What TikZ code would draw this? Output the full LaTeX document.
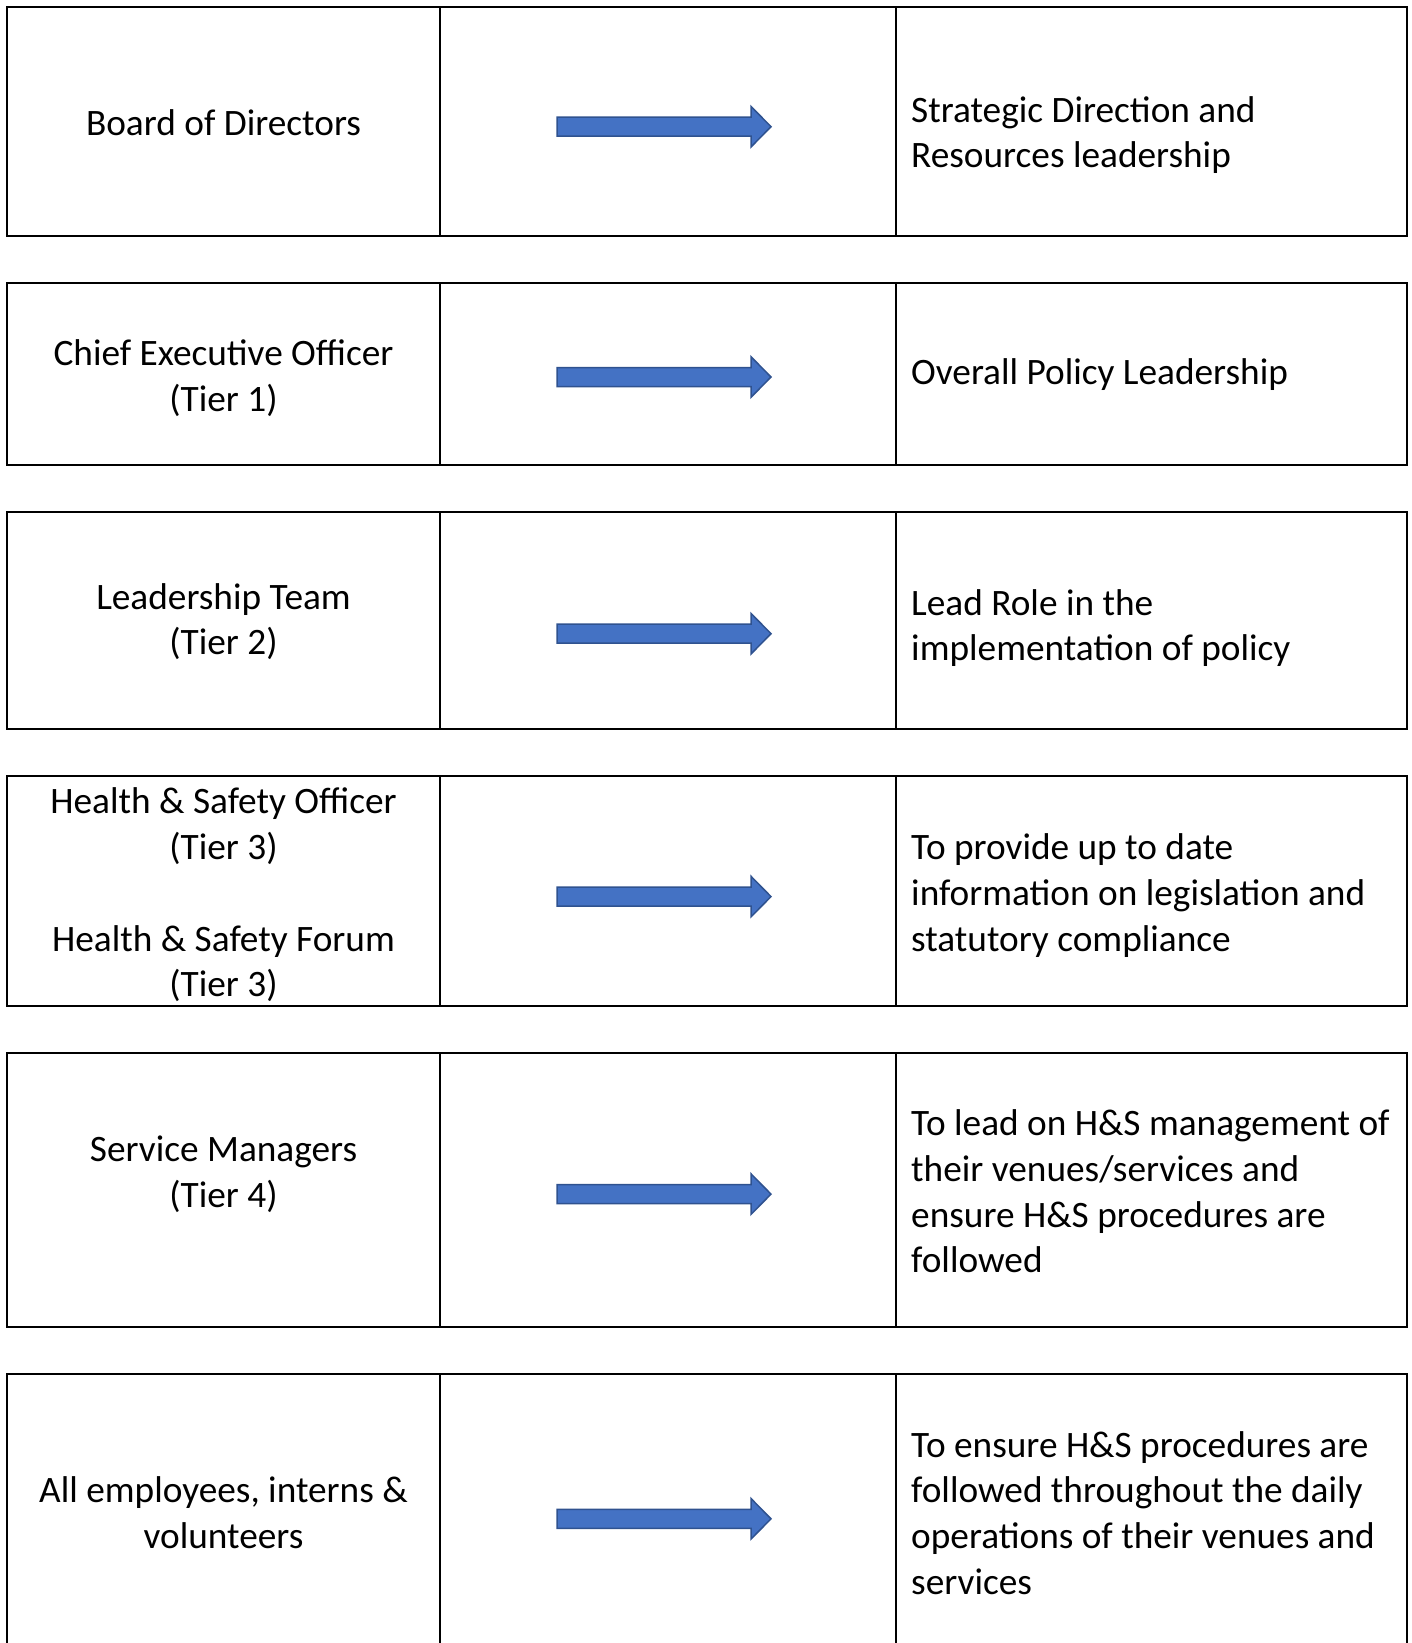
\documentclass[tikz,border=0pt]{standalone}
\usepackage{fontspec}
\setmainfont{Carlito}

\definecolor{flowfill}{HTML}{4472C4}
\definecolor{flowline}{HTML}{2F528F}

\newcommand{\boxfont}[0]{\fontsize{37.3}{45.7}\selectfont}

\begin{document}
\begin{tikzpicture}[x=1pt, y=-1pt,
  cell/.style={draw=black, line width=2pt},
  role/.style={align=center, inner sep=0pt, font=\boxfont},
  duty/.style={align=left, anchor=west, inner sep=0pt, font=\boxfont},
  flow/.style={draw=flowline, fill=flowfill, line width=1.5pt, line join=miter}]

\useasboundingbox (0,0) rectangle (1412,1643);

% row 1
\draw[cell] (7.3,7) rectangle (1406.5,236);
\draw[cell] (440,7) -- (440,236) (895.6,7) -- (895.6,236);
\node[role] (board) at (223.5,122.6) {Board of Directors};
\node[duty] (strategy) at (911,135) {Strategic Direction and\\Resources leadership};
\draw[flow] (557,126.7) ++(0,-9.5) -- ++(194,0) -- ++(0,-10.8) -- ++(20,20.3)
  -- ++(-20,20.3) -- ++(0,-10.8) -- ++(-194,0) -- cycle;

% row 2
\draw[cell] (7.3,283) rectangle (1406.5,465);
\draw[cell] (440,283) -- (440,465) (895.6,283) -- (895.6,465);
\node[role] (ceo) at (223.5,378) {Chief Executive Officer\\(Tier 1)};
\node[duty] (policy) at (911,375) {Overall Policy Leadership};
\draw[flow] (557,377) ++(0,-9.5) -- ++(194,0) -- ++(0,-10.8) -- ++(20,20.3)
  -- ++(-20,20.3) -- ++(0,-10.8) -- ++(-194,0) -- cycle;

% row 3
\draw[cell] (7.3,512) rectangle (1406.5,729);
\draw[cell] (440,512) -- (440,729) (895.6,512) -- (895.6,729);
\node[role] (team) at (223.5,621.6) {Leadership Team\\(Tier 2)};
\node[duty] (lead) at (911,628) {Lead Role in the\\implementation of policy};
\draw[flow] (557,633.7) ++(0,-9.5) -- ++(194,0) -- ++(0,-10.8) -- ++(20,20.3)
  -- ++(-20,20.3) -- ++(0,-10.8) -- ++(-194,0) -- cycle;

% row 4
\draw[cell] (7.3,776) rectangle (1406.5,1005.5);
\draw[cell] (440,776) -- (440,1005.5) (895.6,776) -- (895.6,1005.5);
\node[role] (safety) at (223.5,895) {Health \& Safety Officer\\(Tier 3)\\[45.7pt]Health \& Safety Forum\\(Tier 3)};
\node[duty] (inform) at (911,895.5) {To provide up to date\\information on legislation and\\statutory compliance};
\draw[flow] (557,896.6) ++(0,-9.5) -- ++(194,0) -- ++(0,-10.8) -- ++(20,20.3)
  -- ++(-20,20.3) -- ++(0,-10.8) -- ++(-194,0) -- cycle;

% row 5
\draw[cell] (7.3,1053) rectangle (1406.5,1327);
\draw[cell] (440,1053) -- (440,1327) (895.6,1053) -- (895.6,1327);
\node[role] (managers) at (223.5,1174.2) {Service Managers\\(Tier 4)};
\node[duty] (venues) at (911,1191.5) {To lead on H\&S management of\\their venues/services and\\ensure H\&S procedures are\\followed};
\draw[flow] (557,1194.1) ++(0,-9.5) -- ++(194,0) -- ++(0,-10.8) -- ++(20,20.3)
  -- ++(-20,20.3) -- ++(0,-10.8) -- ++(-194,0) -- cycle;

% row 6 (runs off the page)
\draw[cell] (7.3,1660) |- (1406.5,1374) -- (1406.5,1660);
\draw[cell] (440,1374) -- (440,1660) (895.6,1374) -- (895.6,1660);
\node[role] (staff) at (223.5,1513) {All employees, interns \&\\volunteers};
\node[duty] (daily) at (911,1513) {To ensure H\&S procedures are\\followed throughout the daily\\operations of their venues and\\services};
\draw[flow] (557,1518.8) ++(0,-9.5) -- ++(194,0) -- ++(0,-10.8) -- ++(20,20.3)
  -- ++(-20,20.3) -- ++(0,-10.8) -- ++(-194,0) -- cycle;

\end{tikzpicture}
\end{document}
